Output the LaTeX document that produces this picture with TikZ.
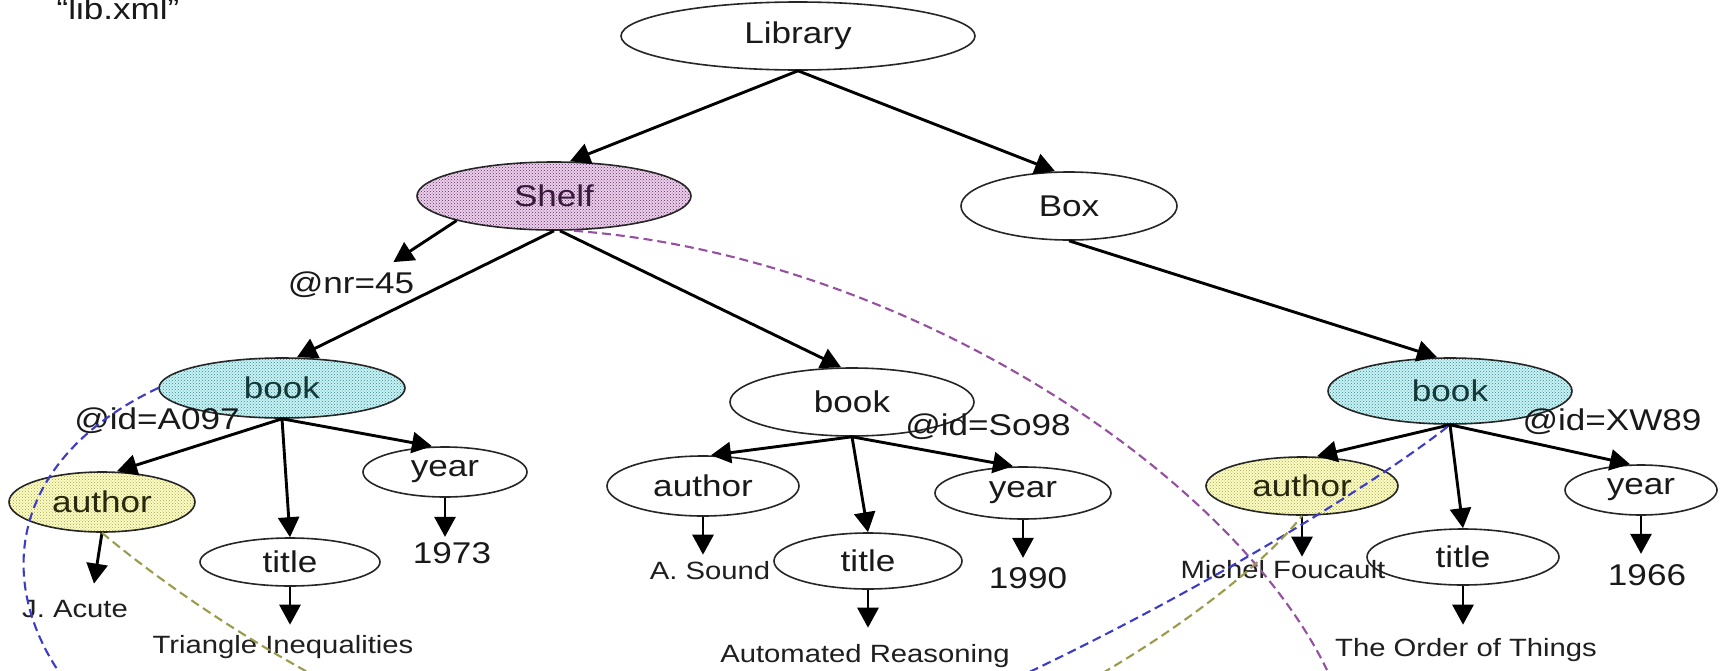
\documentclass[tikz,border=0pt]{standalone}
\usepackage{fontspec}
\setmainfont[FakeStretch=1.17]{Liberation Sans}
\usetikzlibrary{shapes.geometric,arrows.meta,patterns}

\newcommand\lblfont{\fontsize{30}{36}\selectfont}
\newcommand\valfont{\fontsize{25}{30}\selectfont}

\definecolor{shelfbase}{RGB}{236,208,236}
\definecolor{shelfdot}{RGB}{95,45,100}
\definecolor{shelftxt}{RGB}{55,25,60}
\definecolor{bookbase}{RGB}{200,243,245}
\definecolor{bookdot}{RGB}{55,135,145}
\definecolor{booktxt}{RGB}{20,55,55}
\definecolor{authbase}{RGB}{252,252,195}
\definecolor{authdot}{RGB}{165,165,85}
\definecolor{authtxt}{RGB}{40,40,15}
\definecolor{pdash}{RGB}{150,80,160}
\definecolor{bdash}{RGB}{60,60,200}
\definecolor{odash}{RGB}{155,155,75}

\begin{document}
\begin{tikzpicture}[x=1pt, y=-1pt,
  elt/.style={ellipse, draw=black!85, line width=1.6pt, inner sep=0pt,
    font=\lblfont, text=black!90},
  esize/.style 2 args={minimum width=#1pt, minimum height=#2pt},
  shelfstyle/.style={preaction={fill=shelfbase}, pattern=crosshatch dots,
    pattern color=shelfdot, text=shelftxt},
  bookstyle/.style={preaction={fill=bookbase}, pattern=crosshatch dots,
    pattern color=bookdot, text=booktxt},
  authstyle/.style={preaction={fill=authbase}, pattern=crosshatch dots,
    pattern color=authdot, text=authtxt},
  arr/.style={draw=black, line width=2.9pt, -{Triangle[length=20pt,width=21pt]}},
  lbl/.style={font=\lblfont, text=black!90, inner sep=0pt, anchor=base},
  val/.style={font=\valfont, text=black!88, inner sep=0pt, anchor=base},
  dsh/.style={line width=2.1pt, dash pattern=on 9pt off 5pt},
]
\useasboundingbox (0,0) rectangle (1729,670);
\clip (0,0) rectangle (1729,670);
\fill[white] (0,0) rectangle (1729,670);

% element nodes
\node[elt, esize={354}{68}] (lib) at (798,36) {Library};
\node[elt, shelfstyle, esize={274}{68}] (shelf) at (554,196) {Shelf};
\node[elt, esize={216}{68}] (box) at (1069,206) {Box};
\node[elt, bookstyle, esize={246}{60}] (bookA) at (282,388) {book};
\node[elt, esize={244}{68}] (bookB) at (852,402) {book};
\node[elt, bookstyle, esize={244}{66}] (bookC) at (1450,391) {book};
\node[elt, authstyle, esize={186}{60}] (auA) at (102,502) {author};
\node[elt, esize={180}{48}] (tiA) at (290,562) {title};
\node[elt, esize={164}{50}] (yeA) at (445,472) {year};
\node[elt, esize={192}{60}] (auB) at (703,486) {author};
\node[elt, esize={188}{56}] (tiB) at (868,561) {title};
\node[elt, esize={176}{52}] (yeB) at (1023,493) {year};
\node[elt, authstyle, esize={192}{58}] (auC) at (1302,486) {author};
\node[elt, esize={192}{56}] (tiC) at (1463,557) {title};
\node[elt, esize={152}{50}] (yeC) at (1641,490) {year};

% file name, attributes and text values
\node[lbl] (file) at (118,19) {“lib.xml”};
\node[lbl] (nr) at (351,293) {@nr=45};
\node[lbl] (idA) at (157,429) {@id=A097};
\node[lbl] (idB) at (988,435) {@id=So98};
\node[lbl] (idC) at (1612,430) {@id=XW89};
\node[lbl] (vY1) at (452,563) {1973};
\node[lbl] (vY2) at (1028,588) {1990};
\node[lbl] (vY3) at (1647,585) {1966};
\node[val] (vA1) at (75,617) {J. Acute};
\node[val] (vT1) at (283,653) {Triangle Inequalities};
\node[val] (vA2) at (710,579) {A. Sound};
\node[val] (vT2) at (865,662) {Automated Reasoning};
\node[val] (vA3) at (1283,578) {Michel Foucault};
\node[val] (vT3) at (1466,656) {The Order of Things};

% tree edges
\draw[arr] (lib.south) -- ([xshift=16pt]shelf.north);
\draw[arr] (lib.south) -- ([xshift=-14pt]box.north);
\draw[arr] (shelf.south west) -- ([xshift=-21pt,yshift=9pt]nr.north east);
\draw[arr] (shelf.south) -- ([xshift=15pt]bookA.north);
\draw[arr] ([xshift=6pt]shelf.south) -- ([xshift=-11pt]bookB.north);
\draw[arr] (box.south) -- ([xshift=-13pt]bookC.north);

\draw[arr] (bookA.south) -- ([xshift=15pt]auA.north);
\draw[arr] (bookA.south) -- (tiA.north);
\draw[arr] (bookA.south) -- ([xshift=-13pt]yeA.north);
\draw[arr] (auA.south) -- ([xshift=19pt,yshift=16pt]vA1.north);
\draw[arr, shorten >=10pt] (tiA.south) -- (tiA.south |- vT1.north);
\draw[arr, shorten >=5pt] (yeA.south) -- (yeA.south |- vY1.north);

\draw[arr] (bookB.south) -- ([xshift=8pt]auB.north);
\draw[arr] (bookB.south) -- (tiB.north);
\draw[arr] (bookB.south) -- ([xshift=-10pt]yeB.north);
\draw[arr, shorten >=6pt] (auB.south) -- (auB.south |- vA2.north);
\draw[arr, shorten >=16pt] (tiB.south) -- (tiB.south |- vT2.north);
\draw[arr, shorten >=9pt] (yeB.south) -- (yeB.south |- vY2.north);

\draw[arr] (bookC.south) -- ([xshift=15pt]auC.north);
\draw[arr] (bookC.south) -- (tiC.north);
\draw[arr] (bookC.south) -- ([xshift=-11pt]yeC.north);
\draw[arr, shorten >=3pt] (auC.south) -- (auC.south |- vA3.north);
\draw[arr, shorten >=13pt] (tiC.south) -- (tiC.south |- vT3.north);
\draw[arr, shorten >=10pt] (yeC.south) -- (yeC.south |- vY3.north);

% dashed correspondences
\coordinate (pEnd) at (1327,670);
\draw[dsh, draw=pdash] ([xshift=20pt]shelf.south)
  .. controls (900,255) and (1230,470) .. (pEnd);
\coordinate (bLow) at (450,840);
\draw[dsh, draw=bdash] (bookA.west)
  .. controls (-120,520) and (60,840) .. (bLow)
  .. controls (800,840) and (1325,524) .. (bookC.south);
\coordinate (oLow) at (700,800);
\draw[dsh, draw=odash] (auA.south)
  .. controls (230,640) and (480,790) .. (oLow)
  .. controls (920,810) and (1220,620) .. (auC.south);
\end{tikzpicture}
\end{document}
